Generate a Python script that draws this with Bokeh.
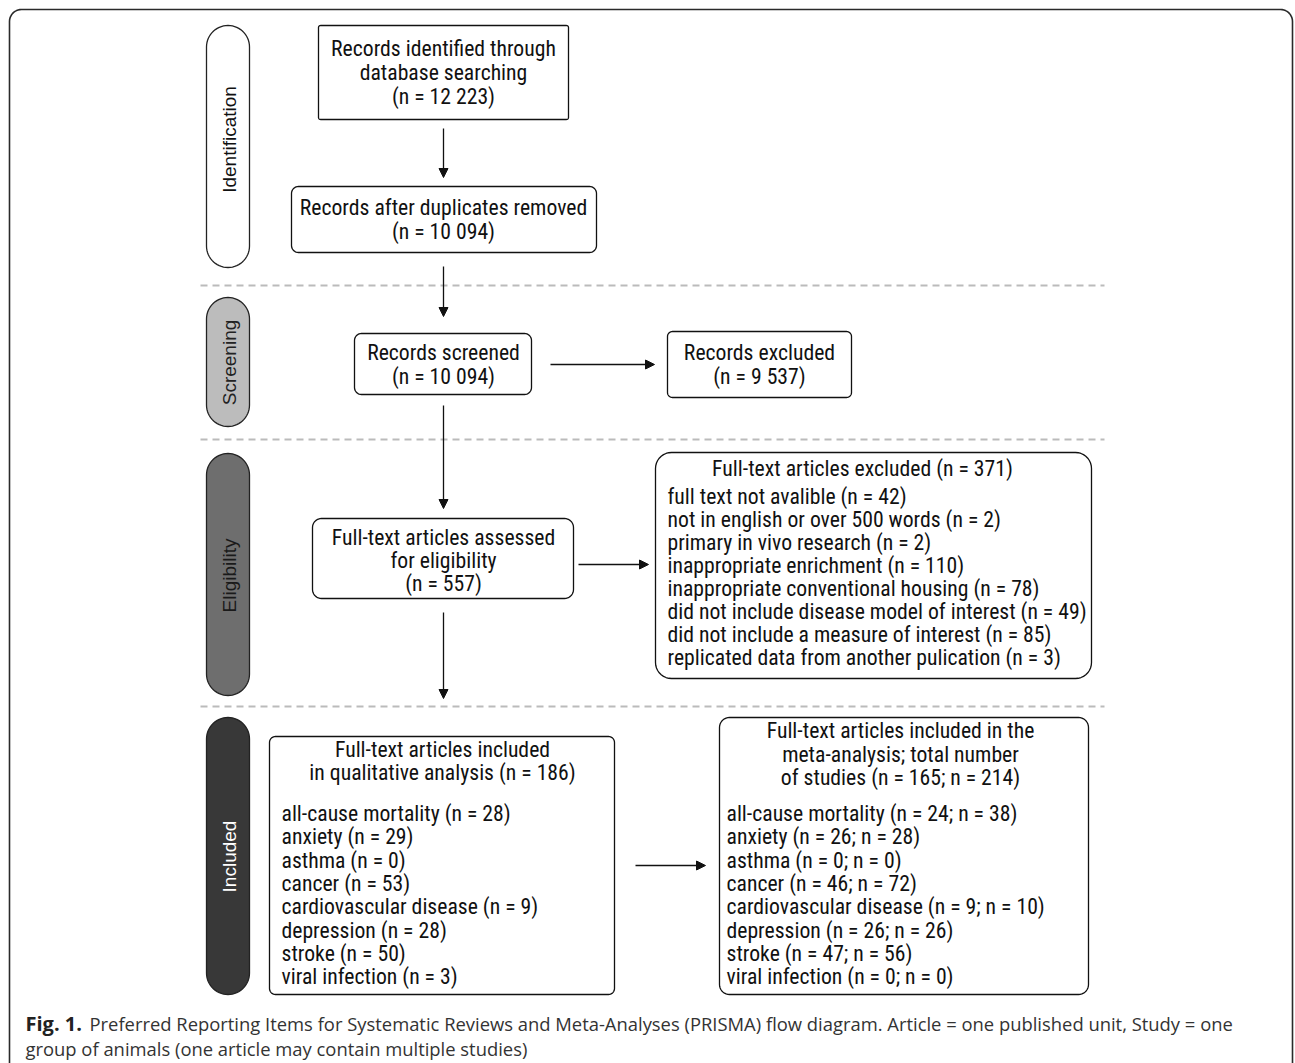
import numpy as np
from bokeh.plotting import figure
from bokeh.models import Range1d, Arrow, NormalHead, ColumnDataSource
from bokeh.core.properties import value
from bokeh.embed import file_html
from bokeh.resources import INLINE

# ---------------- data ----------------
phases = ["Identification", "Screening", "Eligibility", "Included"]
phase_fill = ["#ffffff", "#bcbcbc", "#6e6e6e", "#383838"]
phase_text = ["#111111", "#222222", "#1a1a1a", "#ffffff"]

n_identified = "12 223"
n_after_dup = "10 094"
n_screened = "10 094"
n_excluded = "9 537"
n_fulltext = "557"
n_ft_excluded = 371

excl_reasons = ["full text not avalible", "not in english or over 500 words",
                "primary in vivo research", "inappropriate enrichment",
                "inappropriate conventional housing",
                "did not include disease model of interest",
                "did not include a measure of interest",
                "replicated data from another pulication"]
excl_counts = [42, 2, 2, 110, 78, 49, 85, 3]

n_qual = 186
n_meta_articles = 165
n_meta_studies = 214
outcomes = ["all-cause mortality", "anxiety", "asthma", "cancer",
            "cardiovascular disease", "depression", "stroke", "viral infection"]
qual_counts = [28, 29, 0, 53, 9, 28, 50, 3]
meta_articles = [24, 26, 0, 46, 9, 26, 47, 0]
meta_studies = [38, 28, 0, 72, 10, 26, 56, 0]

caption_bold = "Fig. 1."
caption_line1 = ("Preferred Reporting Items for Systematic Reviews and Meta-Analyses "
                 "(PRISMA) flow diagram. Article = one published unit, Study = one")
caption_line2 = "group of animals (one article may contain multiple studies)"

# ---------------- figure ----------------
W, H = 1295, 1063
p = figure(width=W, height=H, x_range=Range1d(0, W), y_range=Range1d(H, 0),
           output_backend="svg", toolbar_location=None, min_border=0)
p.axis.visible = False
p.grid.visible = False
p.outline_line_color = None
p.background_fill_color = "white"

BOXFONT = value("Roboto Condensed, Liberation Sans Narrow, Liberation Sans, sans-serif")
FS = "21.7px"


def rrect(x0, y0, x1, y1, r, n=10):
    r = min(r, (x1 - x0) / 2, (y1 - y0) / 2)
    xs, ys = [], []
    corners = [(x1 - r, y0 + r, -np.pi / 2, 0), (x1 - r, y1 - r, 0, np.pi / 2),
               (x0 + r, y1 - r, np.pi / 2, np.pi), (x0 + r, y0 + r, np.pi, 1.5 * np.pi)]
    for cx, cy, a0, a1 in corners:
        t = np.linspace(a0, a1, n)
        xs.extend(cx + r * np.cos(t))
        ys.extend(cy + r * np.sin(t))
    return xs, ys


# outer frame (open at bottom)
fl, ft, fr, rad = 9, 9, 1292, 12
pts = [(fl, H + 5), (fl, ft + rad)]
pts += [(fl + rad + rad * np.cos(a), ft + rad + rad * np.sin(a)) for a in np.linspace(np.pi, 1.5 * np.pi, 12)]
pts += [(fr - rad + rad * np.cos(a), ft + rad + rad * np.sin(a)) for a in np.linspace(1.5 * np.pi, 2 * np.pi, 12)]
pts += [(fr, H + 5)]
p.line([q[0] for q in pts], [q[1] for q in pts], line_color="#2a2a2a", line_width=1.6)

# dashed separators
for yy in [285, 439, 706]:
    p.line([200, 1104], [yy, yy], line_color="#bbbbbb", line_width=2, line_dash="7 5")

# phase pills
pill_y = [(25, 267), (297, 426), (453, 695), (717, 994)]
label_y = [139, 362, 575, 856]
px0, px1 = 206, 249
xs_l, ys_l = [], []
for (y0, y1) in pill_y:
    xs, ys = rrect(px0, y0, px1, y1, (px1 - px0) / 2, 16)
    xs_l.append(xs)
    ys_l.append(ys)
p.patches(xs_l, ys_l, fill_color=phase_fill, line_color="#222222", line_width=1.3)
p.text(x=[(px0 + px1) / 2 + 1] * 4, y=label_y, text=phases,
       angle=np.pi / 2, text_align="center", text_baseline="middle",
       text_color=phase_text, text_font=value("Liberation Sans"), text_font_size="19px")

# boxes: (x0, y0, x1, y1, radius)
boxes = [(318, 25, 568, 119, 2), (291, 186, 596, 252, 7), (354, 333, 531, 394, 7),
         (667, 331, 851, 397, 5), (312, 518, 573, 598, 9), (655, 452, 1091, 678, 16),
         (269, 736, 614, 994, 6), (719, 717, 1088, 994, 10)]
bx, by = [], []
for b in boxes:
    xs, ys = rrect(*b)
    bx.append(xs)
    by.append(ys)
p.patches(bx, by, fill_color="white", line_color="#111111", line_width=1.3)

# centered texts
ctext, cx, cy = [], [], []


def center_lines(lines, x, y0, dy=23.5):
    for i, s in enumerate(lines):
        ctext.append(s)
        cx.append(x)
        cy.append(y0 + i * dy)


center_lines(["Records identified through", "database searching", f"(n = {n_identified})"], 443, 48, 24)
center_lines(["Records after duplicates removed", f"(n = {n_after_dup})"], 443, 207)
center_lines(["Records screened", f"(n = {n_screened})"], 443, 352, 24)
center_lines(["Records excluded", f"(n = {n_excluded})"], 759, 352, 24)
center_lines(["Full-text articles assessed", "for eligibility", f"(n = {n_fulltext})"], 443, 537, 23)
center_lines([f"Full-text articles excluded (n = {n_ft_excluded})"], 862, 468)
center_lines(["Full-text articles included", f"in qualitative analysis (n = {n_qual})"], 442, 749, 23)
center_lines(["Full-text articles included in the", "meta-analysis; total number",
              f"of studies (n = {n_meta_articles}; n = {n_meta_studies})"], 900, 730, 23.5)
p.text(x=cx, y=cy, text=ctext, text_align="center", text_baseline="middle",
       text_color="#111111", text_font=BOXFONT, text_font_size=FS)

# left-aligned lists
ltext, lx, ly = [], [], []
for i, (s, c) in enumerate(zip(excl_reasons, excl_counts)):
    ltext.append(f"{s} (n = {c})"); lx.append(667); ly.append(496 + 23 * i)
for i, (s, c) in enumerate(zip(outcomes, qual_counts)):
    ltext.append(f"{s} (n = {c})"); lx.append(281); ly.append(813 + 23.3 * i)
for i, (s, a, b) in enumerate(zip(outcomes, meta_articles, meta_studies)):
    ltext.append(f"{s} (n = {a}; n = {b})"); lx.append(726); ly.append(813 + 23.3 * i)
p.text(x=lx, y=ly, text=ltext, text_align="left", text_baseline="middle",
       text_color="#111111", text_font=BOXFONT, text_font_size=FS)

# arrows
arr = ColumnDataSource(dict(
    x0=[443, 443, 443, 443, 550, 578, 635],
    y0=[128, 266, 405, 612, 364, 564, 865],
    x1=[443, 443, 443, 443, 654, 648, 705],
    y1=[177, 316, 508, 698, 364, 564, 865]))
p.add_layout(Arrow(source=arr, x_start="x0", y_start="y0", x_end="x1", y_end="y1",
                   line_color="#111111", line_width=1.3,
                   end=NormalHead(size=9, fill_color="#111111", line_color="#111111", line_width=1)))

# caption
p.text(x=[25], y=[1023], text=[caption_bold], text_align="left", text_baseline="middle",
       text_color="#222222", text_font=value("Open Sans"), text_font_size="20px",
       text_font_style="bold")
p.text(x=[25, 89], y=[1048, 1023], text=[caption_line2, caption_line1], text_align="left",
       text_baseline="middle", text_color="#333333", text_font=value("Open Sans"),
       text_font_size="18.4px")

open("out.html", "w").write(file_html(p, INLINE))
